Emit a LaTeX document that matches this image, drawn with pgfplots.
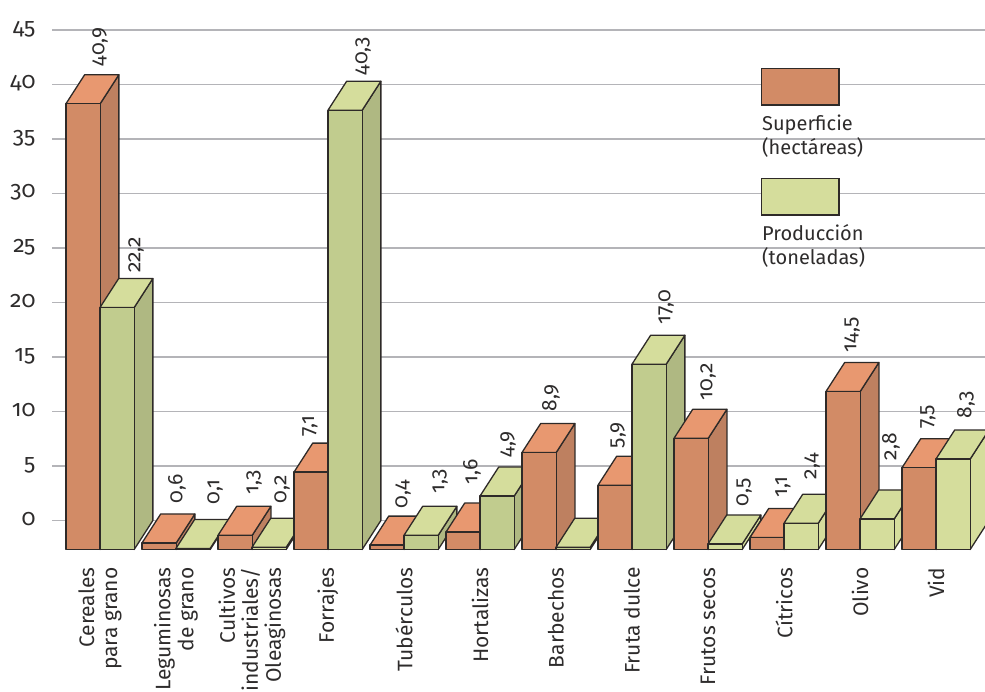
\documentclass[border=0pt]{standalone}
\usepackage{pgfplots}
\usepackage{pgfplotstable}
\usepackage{fontspec}
\pgfplotsset{compat=1.18}
\setmainfont[Numbers=OldStyle]{Fira Sans}

\definecolor{edge}{HTML}{2E2A28}
\definecolor{gridgray}{HTML}{B4B4B8}
\definecolor{txt}{HTML}{2E2C2C}
\definecolor{orfront}{HTML}{D28B66}
\definecolor{ortop}{HTML}{E89870}
\definecolor{orside}{HTML}{BE8060}
\definecolor{grfront}{HTML}{D5DD9C}
\definecolor{grtop}{HTML}{D5DD9C}
\definecolor{grside}{HTML}{D5DD9C}
\definecolor{dgfront}{HTML}{C1CC8E}
\definecolor{dgside}{HTML}{AFB882}

% pos: left edge in category units; kind: 0 orange, 1 pale green, 2 shaded green
% lx, ly: where the value label starts (ly below zero means no label)
\pgfplotstableread{
pos    v     kind  lx      ly
0.000  40.9  0     0.447   41.65
0.447  22.2  2     0.921   22.69
1.000  0.6   0     1.461   1.56
1.447  0.1   1     1.961   1.47
2.000  1.3   0     2.474   2.39
2.447  0.2   1     2.842   1.56
3.000  7.1   0     3.211   7.71
3.447  40.3  2     3.908   40.83
4.000  0.4   0     4.434   1.10
4.447  1.3   2     4.921   2.48
5.000  1.6   0     5.342   3.30
5.447  4.9   2     5.816   5.78
6.000  8.9   0     6.382   10.00
6.447  0.2   2     6.800   -1
7.000  5.9   0     7.263   6.61
7.447  17.0  2     7.895   17.98
8.000  10.2  0     8.447   11.00
8.447  0.5   1     8.921   1.28
9.000  1.1   0     9.434   2.11
9.447  2.4   1     9.816   3.76
10.000 14.5  0     10.342  15.41
10.447 2.8   1     10.855  5.50
11.000 7.5   0     11.342  8.44
11.447 8.3   1     11.842  9.36
}\blocks

\newcommand{\barw}{0.45}    % block width in category units
\newcommand{\depthx}{0.246} % horizontal run of the receding edge
\newcommand{\depthy}{2.66}  % vertical run of the receding edge

\newcommand{\drawblock}[1]{%
  \pgfplotstablegetelem{#1}{pos}\of\blocks \let\p\pgfplotsretval
  \pgfplotstablegetelem{#1}{v}\of\blocks \let\v\pgfplotsretval
  \pgfplotstablegetelem{#1}{kind}\of\blocks \let\k\pgfplotsretval
  \pgfplotstablegetelem{#1}{lx}\of\blocks \let\xl\pgfplotsretval
  \pgfplotstablegetelem{#1}{ly}\of\blocks \let\yl\pgfplotsretval
  \ifcase\k\relax
    \def\cf{orfront}\def\ct{ortop}\def\cs{orside}\or
    \def\cf{grfront}\def\ct{grtop}\def\cs{grside}\or
    \def\cf{dgfront}\def\ct{grtop}\def\cs{dgside}\fi
  \pgfmathsetmacro\xa{\p}
  \pgfmathsetmacro\xb{\p+\barw}
  \pgfmathsetmacro\xc{\p+\depthx}
  \pgfmathsetmacro\xd{\p+\barw+\depthx}
  \pgfmathsetmacro\yf{\v-\depthy}
  \edef\temp{%
    \noexpand\addplot[fill=\cs,draw=edge,line width=1.3pt,line join=round]
      coordinates {(\xb,-\depthy) (\xd,0) (\xd,\v) (\xb,\yf)} --cycle;
    \noexpand\addplot[fill=\ct,draw=edge,line width=1.3pt,line join=round]
      coordinates {(\xa,\yf) (\xc,\v) (\xd,\v) (\xb,\yf)} --cycle;
    \noexpand\addplot[fill=\cf,draw=edge,line width=1.3pt,line join=round]
      coordinates {(\xa,-\depthy) (\xa,\yf) (\xb,\yf) (\xb,-\depthy)} --cycle;
  }\temp
  \ifdim\yl pt>0pt
    \edef\temp{%
      \noexpand\node[rotate=90,anchor=west,inner sep=0pt,text=txt,font=\noexpand\fontsize{21}{22}\noexpand\selectfont]
        at (axis cs:\xl,\yl) {\noexpand\pgfmathprintnumber[fixed,fixed zerofill,precision=1,use comma,assume math mode=true]{\v}};
    }\temp
  \fi
}

\begin{document}
\begin{tikzpicture}[x=1pt,y=1pt]
\useasboundingbox (0,0) rectangle (985,692);
\clip (0,0) rectangle (985,692);
\begin{axis}[
  at={(52pt,142.5pt)}, anchor=south west,
  scale only axis, width=933pt, height=519.5pt,
  xmin=-0.1842, xmax=12.092, ymin=-2.66, ymax=45,
  clip=false,
  axis line style={draw=none},
  major tick length=0pt,
  ymajorgrids, grid style={gridgray,line width=1.1pt},
  ytick={0,5,...,45},
  yticklabel style={/pgf/number format/assume math mode=true,text=txt,
     font=\fontsize{23}{25}\selectfont,anchor=east,xshift=-13pt,yshift=1pt},
  xtick={0.447,1.447,...,11.447},
  xticklabels={{Cereales\\para grano},{Leguminosas\\de grano},{Cultivos\\industriales/\\Oleaginosas},Forrajes,
    Tubérculos,Hortalizas,Barbechos,Fruta dulce,Frutos secos,Cítricos,Olivo,Vid},
  xticklabel style={rotate=90,anchor=east,align=right,text=txt,xshift=-14.5pt,
     font=\fontsize{21}{23}\selectfont},
]
\pgfplotsinvokeforeach{0,...,23}{\drawblock{#1}}
\end{axis}
% key
\draw[fill=orfront,draw=edge,line width=1.3pt] (761.5,623.5) rectangle (839,587);
\draw[fill=grfront,draw=edge,line width=1.3pt] (761.5,513.5) rectangle (839,477);
\node[anchor=base west,inner sep=0pt,text=txt,font=\fontsize{20}{22}\selectfont] at (762,561) {Superficie};
\node[anchor=base west,inner sep=0pt,text=txt,font=\fontsize{20}{22}\selectfont] at (762,537) {(hectáreas)};
\node[anchor=base west,inner sep=0pt,text=txt,font=\fontsize{20}{22}\selectfont] at (762,451) {Producción};
\node[anchor=base west,inner sep=0pt,text=txt,font=\fontsize{20}{22}\selectfont] at (762,427) {(toneladas)};
\end{tikzpicture}
\end{document}
